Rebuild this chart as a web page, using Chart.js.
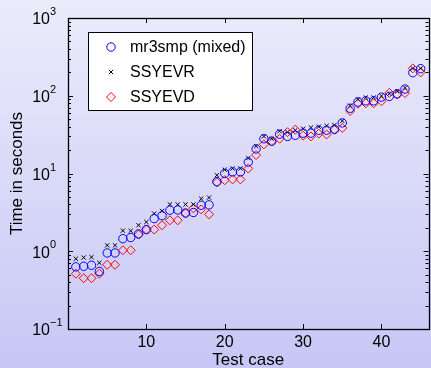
<!DOCTYPE html>
<html>
<head>
<meta charset="utf-8">
<script src="https://cdn.jsdelivr.net/npm/chart.js@4.4.0/dist/chart.umd.min.js"></script>
<style>
    html, body { margin: 0; padding: 0; overflow: hidden; }
    body { width: 431px; height: 368px; background: linear-gradient(#ebebfb, #c7c7f6); }
    #wrap { position: absolute; left: 0; top: 0; width: 434px; height: 368px; }
</style>
</head>
<body>
<div id="wrap"><canvas id="chart"></canvas></div>
<script>
// --- Data ---
const testCases = [1, 2, 3, 4, 5, 6, 7, 8, 9, 10, 11, 12, 13, 14, 15, 16, 17, 18, 19, 20,
    21, 22, 23, 24, 25, 26, 27, 28, 29, 30, 31, 32, 33, 34, 35, 36, 37, 38, 39, 40,
    41, 42, 43, 44, 45];
const mr3smp = [0.63, 0.64, 0.66, 0.55, 0.95, 0.95, 1.45, 1.5, 1.67, 1.9,
    2.63, 2.87, 3.37, 3.4, 3.1, 3.15, 3.9, 3.95, 7.85, 10,
    10.5, 10.5, 14, 20.7, 28, 26, 32, 30, 31, 33,
    33, 36, 36, 37, 44.7, 69, 83, 86, 86, 96,
    98, 106, 122, 198, 223];
const ssyevr = [0.80, 0.83, 0.84, 0.71, 1.19, 1.19, 1.84, 1.83, 2.16, 2.38,
    3.05, 3.3, 4.0, 4.0, 4.0, 4.0, 4.75, 4.9, 9.5, 11.2,
    11.6, 11.6, 15.8, 22.4, 30, 28, 35, 34, 36, 37.7,
    39, 40, 41, 42, 47.4, 74.6, 90, 95, 95, 99.5,
    106, 114, 127, 225, 225];
const ssyevd = [0.515, 0.45, 0.45, 0.515, 0.67, 0.67, 1.03, 1.03, 1.64, 1.9,
    1.9, 2.16, 2.5, 2.5, 3.08, 3.57, 3.45, 2.98, 7.7, 8.2,
    8.4, 8.4, 11.6, 17.3, 23.7, 26, 28, 34, 36.6, 30.7,
    30, 32.6, 31.8, 36.6, 38.5, 63.7, 79, 80, 80, 85,
    109, 104, 108, 225, 200];
const seriesLabels = ['mr3smp (mixed)', 'SSYEVR', 'SSYEVD'];
const xTicks = [10, 20, 30, 40];
const yExponents = [-1, 0, 1, 2, 3];

const FONT = '"Liberation Sans", Arial, sans-serif';

// --- Matlab-style frame, inward ticks, labels and legend ---
const matlabFrame = {
    id: 'matlabFrame',
    beforeDatasetsDraw(chart) {
        const { ctx, chartArea: a, scales: { x, y } } = chart;
        ctx.save();
        ctx.strokeStyle = '#000';
        ctx.lineWidth = 1;
        ctx.beginPath();
        // log ticks on left and right
        for (let e = -1; e < 3; e++) {
            for (let m = 1; m < 10; m++) {
                const py = Math.round(y.getPixelForValue(m * Math.pow(10, e))) + 0.5;
                const len = m === 1 ? 5 : 3;
                ctx.moveTo(a.left, py); ctx.lineTo(a.left + len, py);
                ctx.moveTo(a.right, py); ctx.lineTo(a.right - len, py);
            }
        }
        xTicks.forEach(v => {
            const px = Math.round(x.getPixelForValue(v)) + 0.5;
            ctx.moveTo(px, a.bottom); ctx.lineTo(px, a.bottom - 5);
            ctx.moveTo(px, a.top); ctx.lineTo(px, a.top + 5);
        });
        ctx.stroke();
        ctx.lineWidth = 1.3;
        ctx.strokeRect(Math.round(a.left) + 0.5, Math.round(a.top) + 0.5,
            Math.round(a.right - a.left), Math.round(a.bottom - a.top));

        // tick labels
        ctx.fillStyle = '#000';
        ctx.textBaseline = 'middle';
        yExponents.forEach(e => {
            const py = y.getPixelForValue(Math.pow(10, e));
            ctx.font = '16px ' + FONT;
            ctx.textAlign = 'right';
            ctx.fillText('10', 50, py + 2);
            ctx.font = '11px ' + FONT;
            ctx.textAlign = 'left';
            ctx.fillText(e < 0 ? '\u2212' + (-e) : String(e), 50, py - 6);
        });
        ctx.font = '16px ' + FONT;
        ctx.textAlign = 'center';
        xTicks.forEach(v => {
            ctx.fillText(String(v), x.getPixelForValue(v), a.bottom + 14);
        });

        // axis titles
        ctx.font = '17px ' + FONT;
        ctx.fillText('Test case', (a.left + a.right) / 2, 360);
        ctx.save();
        ctx.translate(17, (a.top + a.bottom) / 2);
        ctx.rotate(-Math.PI / 2);
        ctx.fillText('Time in seconds', 0, 0);
        ctx.restore();
        ctx.restore();
    },
    afterDatasetsDraw(chart) {
        const { ctx } = chart;
        ctx.save();
        ctx.fillStyle = '#fff';
        ctx.fillRect(88, 32, 164, 78);
        ctx.strokeStyle = '#000';
        ctx.lineWidth = 1;
        ctx.strokeRect(88.5, 32.5, 164, 78);
        ctx.font = '16px ' + FONT;
        ctx.textAlign = 'left';
        ctx.textBaseline = 'middle';
        chart.data.datasets.forEach((ds, i) => {
            const ly = 47 + i * 25;
            ctx.strokeStyle = ds.borderColor;
            ctx.fillStyle = 'rgba(0,0,0,0)';
            ctx.lineWidth = ds.borderWidth;
            Chart.helpers.drawPoint(ctx, {
                pointStyle: ds.pointStyle, radius: ds.pointRadius,
                rotation: 0, borderWidth: ds.borderWidth
            }, 111, ly);
            ctx.fillStyle = '#000';
            ctx.fillText(ds.label, 130, ly + 1);
        });
        ctx.restore();
    }
};

const toPoints = vals => testCases.map((t, i) => ({ x: t, y: vals[i] }));

new Chart(document.getElementById('chart'), {
    type: 'scatter',
    data: {
        datasets: [
            { label: seriesLabels[0], data: toPoints(mr3smp), pointStyle: 'circle',
              pointRadius: 4.2, borderColor: '#0000ff', backgroundColor: 'rgba(0,0,0,0)', borderWidth: 1 },
            { label: seriesLabels[1], data: toPoints(ssyevr), pointStyle: 'crossRot',
              pointRadius: 3, borderColor: '#000000', backgroundColor: 'rgba(0,0,0,0)', borderWidth: 1 },
            { label: seriesLabels[2], data: toPoints(ssyevd), pointStyle: 'rectRot',
              pointRadius: 4.5, borderColor: '#ff0000', backgroundColor: 'rgba(0,0,0,0)', borderWidth: 1 }
        ]
    },
    options: {
        responsive: true,
        maintainAspectRatio: false,
        animation: false,
        layout: { padding: { top: 18, right: 2, left: 0, bottom: 0 } },
        plugins: { legend: { display: false }, tooltip: { enabled: false } },
        scales: {
            x: {
                type: 'linear', min: 0, max: 46,
                grid: { display: false }, border: { display: false },
                ticks: { display: false },
                afterFit: s => { s.height = 39; }
            },
            y: {
                type: 'logarithmic', min: 0.1, max: 1000,
                grid: { display: false }, border: { display: false },
                ticks: { display: false },
                afterFit: s => { s.width = 68; }
            }
        }
    },
    plugins: [matlabFrame]
});
</script>
</body>
</html>
